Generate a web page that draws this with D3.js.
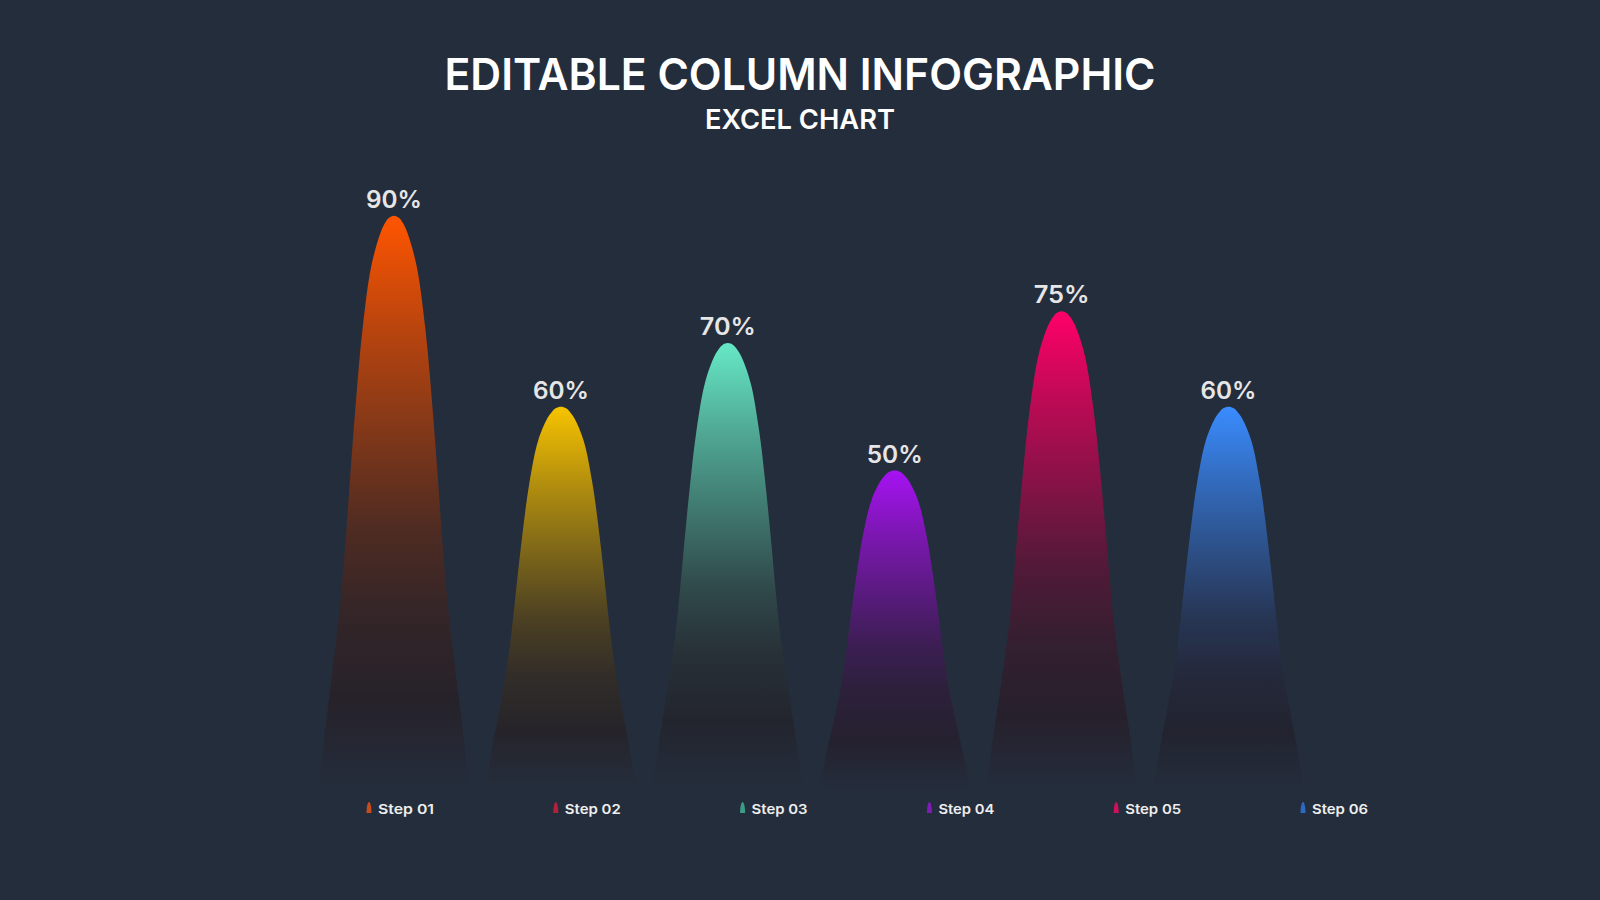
<!DOCTYPE html>
<html>
<head>
<meta charset="utf-8">
<script src="https://cdn.jsdelivr.net/npm/d3@7"></script>
<style>
  html, body { margin: 0; padding: 0; background: #242d3c; }
  svg { display: block; }
</style>
</head>
<body>
<svg id="chart" width="1600" height="900"></svg>
<script>
// ---- data ----
const categories = ["Step 01", "Step 02", "Step 03", "Step 04", "Step 05", "Step 06"];
const values = [0.90, 0.60, 0.70, 0.50, 0.75, 0.60];
const valueLabels = ["90%", "60%", "70%", "50%", "75%", "60%"];
const peakColors = ["#ff5500", "#f7c300", "#66e8c6", "#a612f2", "#ff0068", "#3a8cff"];
const legendColors = ["#d8501a", "#c21f3c", "#3fa88e", "#8d18c8", "#e0105e", "#2f6fd0"];
const title = "EDITABLE COLUMN INFOGRAPHIC";
const subtitle = "EXCEL CHART";

// ---- layout / style ----
const W = 1600, H = 900;
const bg = "#242d3c";
const darkBase = "#22212b";
const svg = d3.select("#chart");
svg.append("rect").attr("width", W).attr("height", H).attr("fill", bg);

const x = d3.scaleBand().domain(categories).range([310.5, 1312]).paddingInner(0.1).paddingOuter(0.05);
const y = d3.scaleLinear().domain([0, 1]).range([789, 152]);

// normalized bell profile (depth fraction -> half-width fraction)
const profile = [[0,0],[0.004,0.07],[0.012,0.115],[0.03,0.18],[0.09,0.305],[0.2,0.42],[0.33,0.51],[0.45,0.58],[0.56,0.64],[0.67,0.71],[0.79,0.815],[0.9,0.92],[1,1]];

const defs = svg.append("defs");
const alphaStops = [[0,1],[0.2,0.68],[0.4,0.4],[0.55,0.2],[0.7,0.075],[0.85,0.02]];
peakColors.forEach((c, i) => {
  const g = defs.append("linearGradient").attr("id", "grad" + i)
    .attr("x1", 0).attr("y1", 0).attr("x2", 0).attr("y2", 1);
  alphaStops.forEach(([o, a]) => {
    g.append("stop").attr("offset", o).attr("stop-color", d3.interpolateRgb(darkBase, c)(a));
  });
  g.append("stop").attr("offset", 1).attr("stop-color", bg);
});

const line = d3.line().x(d => d[0]).y(d => d[1]).curve(d3.curveCatmullRom);

const bars = svg.append("g");
categories.forEach((cat, i) => {
  const cx = x(cat) + x.bandwidth() / 2;
  const half = x.bandwidth() / 2;
  const top = y(values[i]), base = y(0);
  const hgt = base - top;
  const left = profile.slice().reverse().map(([t, w]) => [cx - w * half, top + t * hgt]);
  const right = profile.slice(1).map(([t, w]) => [cx + w * half, top + t * hgt]);
  bars.append("path")
    .attr("d", line(left.concat(right)) + "Z")
    .attr("fill", "url(#grad" + i + ")");
  svg.append("text")
    .attr("x", cx).attr("y", top - 8)
    .attr("text-anchor", "middle")
    .attr("font-family", "Inter, 'Open Sans', sans-serif")
    .attr("font-weight", 600)
    .attr("font-size", 24)
    .attr("fill", "#e6e6e6")
    .attr("textLength", 56).attr("lengthAdjust", "spacingAndGlyphs")
    .text(valueLabels[i]);
});

// title
svg.append("text").attr("x", 800).attr("y", 89.5).attr("text-anchor", "middle")
  .attr("font-family", "Inter, 'Open Sans', sans-serif").attr("font-weight", 600)
  .attr("font-size", 44).attr("fill", "#ffffff")
  .attr("textLength", 711).attr("lengthAdjust", "spacingAndGlyphs")
  .text(title);
svg.append("text").attr("x", 800).attr("y", 128.5).attr("text-anchor", "middle")
  .attr("font-family", "Inter, 'Open Sans', sans-serif").attr("font-weight", 600)
  .attr("font-size", 27).attr("fill", "#ffffff")
  .attr("textLength", 190).attr("lengthAdjust", "spacingAndGlyphs")
  .text(subtitle);

// legend
const lx = d3.scalePoint().domain(categories).range([378, 1312]);
const legend = svg.append("g");
categories.forEach((cat, i) => {
  const tx = lx(cat);
  const mx = tx - 9, my = 802;
  legend.append("path")
    .attr("d", `M${mx - 2.5},${my + 11} C${mx - 2.5},${my + 4} ${mx - 1.2},${my} ${mx},${my} C${mx + 1.2},${my} ${mx + 2.5},${my + 4} ${mx + 2.5},${my + 11} Z`)
    .attr("fill", legendColors[i]).attr("opacity", 0.9);
  legend.append("text").attr("x", tx).attr("y", 813.5)
    .attr("font-family", "Inter, 'Open Sans', sans-serif").attr("font-weight", 600)
    .attr("font-size", 13.5).attr("fill", "#eeeeee")
    .attr("textLength", 56).attr("lengthAdjust", "spacingAndGlyphs")
    .text(cat);
});
</script>
</body>
</html>
